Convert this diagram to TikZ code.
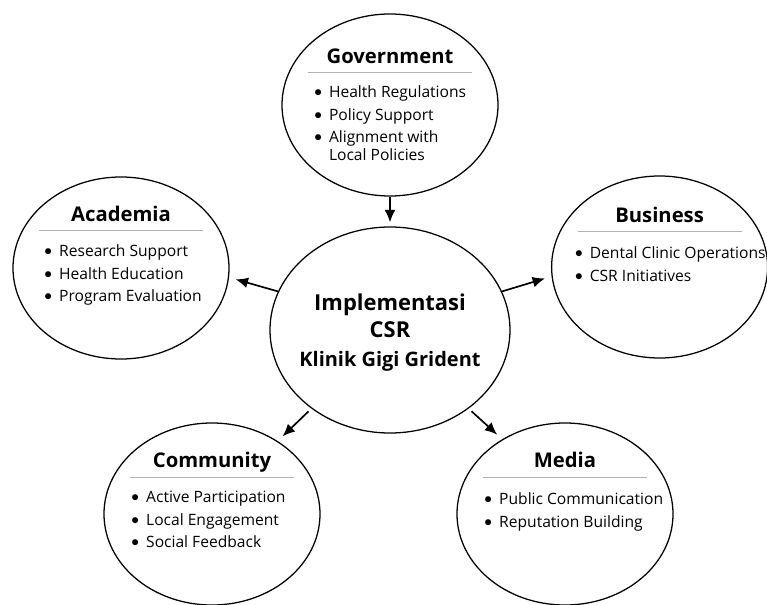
\documentclass[tikz,border=0pt]{standalone}
\usepackage{fontspec}
\setmainfont{Open Sans}
\usetikzlibrary{arrows.meta,shapes.geometric}

% one bullet line of a stakeholder list
\newcommand{\blt}{\raisebox{0.7pt}{$\bullet$}}
\newcommand{\point}[1]{\blt & #1 \\[3.4pt]}

\begin{document}
\begin{tikzpicture}

\tikzset{bubble/.style = {shape=ellipse,draw,line width=0.9pt,minimum width=5.4cm,minimum height=4.55cm}}
\tikzset{hub/.style = {shape=ellipse,draw,line width=0.9pt,minimum width=6cm,minimum height=5.15cm}}
\tikzset{head/.style = {anchor=base,inner sep=0,font=\fontsize{14.4}{17}\selectfont\bfseries}}
\tikzset{points/.style = {anchor=base west,inner sep=0,font=\fontsize{11.1}{12.8}\selectfont}}
\tikzset{rule/.style = {draw=gray!60,line width=0.6pt}}
\tikzset{edge/.style = {-{Latex[length=3.1mm,width=2.7mm]},line width=1.2pt,shorten >=0.17cm}}

\useasboundingbox (-9.75,-6.85) rectangle (9.425,8.25);

% ellipses
\node[hub] (csr) at (0,0) {};
\node[bubble] (gov) at (0,5.625) {};
\node[bubble] (acad) at (-6.725,1.55) {};
\node[bubble] (biz) at (6.74,1.575) {};
\node[bubble] (comm) at (-4.45,-4.6) {};
\node[bubble] (media) at (4.375,-4.6) {};

% centre text
\node[align=center,font=\bfseries\fontsize{15.6}{19.3}\selectfont] (csrtext) at (0,0.36)
  {Implementasi\\CSR};
\node[anchor=base,font=\bfseries\fontsize{14.2}{16}\selectfont] (clinic) at (0,-0.9)
  {Klinik Gigi Grident};

% headings
\node[head] (govhead) at ([yshift=-1.25cm]gov.north) {Government};
\node[head] (acadhead) at ([yshift=-1.125cm]acad.north) {Academia};
\node[head] (bizhead) at ([yshift=-1.175cm]biz.north) {Business};
\node[head] (commhead) at ([yshift=-1.125cm]comm.north) {Community};
\node[head] (mediahead) at ([yshift=-1.125cm]media.north) {Media};

% thin rules under the headings
\foreach \b/\d in {gov/1.48,acad/1.35,biz/1.4,comm/1.375,media/1.375}
  \draw[rule] ([xshift=-2.05cm,yshift=-\d cm]\b.north) -- ([xshift=2.05cm,yshift=-\d cm]\b.north);

% lists
\node[points] (govlist) at ([xshift=-1.9cm,yshift=-2.1cm]gov.north)
  {\begin{tabular}[t]{@{}l@{\hspace{5pt}}l@{}}
   \point{Health Regulations}
   \point{Policy Support}
   \blt & Alignment with\\
   & Local Policies
   \end{tabular}};
\node[points] (acadlist) at ([xshift=-1.92cm,yshift=-2cm]acad.north)
  {\begin{tabular}[t]{@{}l@{\hspace{5pt}}l@{}}
   \point{Research Support}
   \point{Health Education}
   \point{Program Evaluation}
   \end{tabular}};
\node[points] (bizlist) at ([xshift=-2.12cm,yshift=-2.075cm]biz.north)
  {\begin{tabular}[t]{@{}l@{\hspace{5pt}}l@{}}
   \point{Dental Clinic Operations}
   \point{CSR Initiatives}
   \end{tabular}};
\node[points] (commlist) at ([xshift=-2.02cm,yshift=-2cm]comm.north)
  {\begin{tabular}[t]{@{}l@{\hspace{5pt}}l@{}}
   \point{Active Participation}
   \point{Local Engagement}
   \point{Social Feedback}
   \end{tabular}};
\node[points] (medialist) at ([xshift=-2.02cm,yshift=-2.05cm]media.north)
  {\begin{tabular}[t]{@{}l@{\hspace{5pt}}l@{}}
   \point{Public Communication}
   \point{Reputation Building}
   \end{tabular}};

% arrows
\draw[edge,shorten >=0.1cm] (gov.south) to (csr.north);
\draw[edge] (csr.161) to (acad.-5);
\draw[edge] (csr.19) to (biz.185);
\draw[edge,shorten <=0.1cm] (csr.225) to (comm.48);
\draw[edge,shorten <=0.1cm] (csr.-45) to (media.130);

\end{tikzpicture}
\end{document}
